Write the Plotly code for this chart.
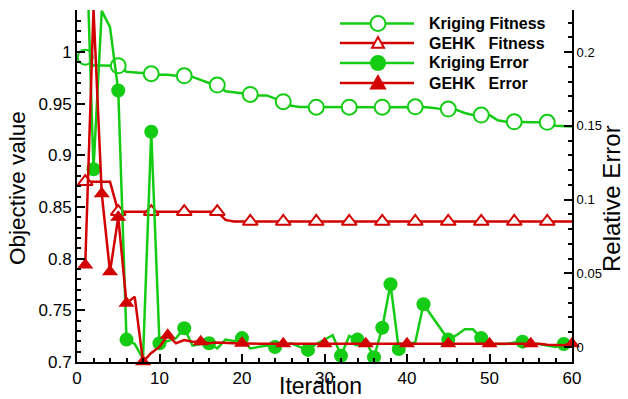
import plotly.graph_objects as go

# ---------------- data ----------------
iterations = list(range(1, 61))

kriging_fitness = [
    0.995, 0.987, 0.987, 0.987, 0.9867, 0.981, 0.9805, 0.980, 0.979, 0.978,
    0.978, 0.977, 0.977, 0.976, 0.973, 0.970, 0.968, 0.962, 0.961, 0.960,
    0.959, 0.958, 0.958, 0.955, 0.952, 0.948, 0.9468, 0.9467, 0.9466, 0.9466,
    0.9466, 0.9466, 0.9466, 0.9466, 0.9466, 0.9466, 0.9466, 0.9466, 0.9466, 0.9468,
    0.947, 0.9468, 0.946, 0.945, 0.9448, 0.944, 0.941, 0.939, 0.939, 0.939,
    0.934, 0.9325, 0.9325, 0.932, 0.932, 0.932, 0.932, 0.9287, 0.9285, 0.928,
]

gehk_fitness = [
    0.8745, 0.8745, 0.8745, 0.8745, 0.8455, 0.8455, 0.8455, 0.8455, 0.8455, 0.8455,
    0.8455, 0.8455, 0.8455, 0.8455, 0.8455, 0.8455, 0.8455, 0.8375, 0.836, 0.836,
] + [0.836] * 40

kriging_error = [
    0.300, 0.1206, 0.228, 0.217, 0.174, 0.005, 0.002, -0.008, 0.146, 0.0025,
    0.004, 0.006, 0.0127, 0.001, 0.002, 0.0025, -0.001, 0.005, 0.004, 0.006,
    -0.001, 0.000, 0.001, 0.000, 0.001, 0.0025, 0.000, -0.002, 0.002, 0.005,
    0.008, -0.006, 0.0075, 0.005, 0.004, -0.007, 0.013, 0.0425, -0.0014, 0.002,
    0.003, 0.029, 0.021, 0.013, 0.005, 0.008, 0.012, 0.012, 0.006, 0.002,
    0.002, 0.002, 0.003, 0.0036, 0.002, 0.002, 0.001, 0.000, 0.002, 0.001,
]

gehk_error = [
    0.0556, 0.229, 0.104, 0.051, 0.088, 0.0296, 0.034, -0.010, -0.004, 0.000,
    0.008, 0.0025, 0.0047, 0.0036, 0.0036, 0.0025, 0.003, 0.0025, 0.0025, 0.0025,
] + [0.0022] * 36 + [0.0015, 0.0012, 0.0012, 0.0022]

fitness_marker_iters = list(range(1, 61, 4))
kriging_error_marker_iters = [2, 5, 6, 9, 10, 13, 16, 20, 24, 28, 32, 34, 36, 37,
                              38, 39, 42, 45, 49, 54, 59]
gehk_error_marker_iters = [1, 2, 3, 4, 5, 6, 8, 11, 15, 20, 25, 30, 35, 40, 45,
                           50, 55, 60]

x_ticks = [0, 10, 20, 30, 40, 50, 60]
left_ticks = [0.7, 0.75, 0.8, 0.85, 0.9, 0.95, 1.0]
right_ticks = [0, 0.05, 0.1, 0.15, 0.2]

series_names = ["Kriging Fitness", "GEHK\u00a0\u00a0\u00a0Fitness",
                "Kriging Error", "GEHK\u00a0\u00a0\u00a0Error"]

# ---------------- style ----------------
GREEN = "#14cc14"
RED = "#d20000"
FONT = "Liberation Sans, Arial, sans-serif"
W, H = 628, 399
L, R, T, B = 77, 56, 10, 37
PW, PH = W - L - R, H - T - B


def px(x):
    return (x - L) / PW


def py(y):
    return (H - B - y) / PH


def subset(values, iters):
    return [values[iterations.index(i)] for i in iters]


fig = go.Figure()

# fitness (left axis)
for vals, color, sym, size, mk in [
    (kriging_fitness, GREEN, "circle", 15, fitness_marker_iters),
    (gehk_fitness, RED, "triangle-up", 13, fitness_marker_iters),
]:
    fig.add_trace(go.Scatter(x=iterations, y=vals, mode="lines",
                             line=dict(color=color, width=2.5),
                             showlegend=False, yaxis="y"))
    fig.add_trace(go.Scatter(x=mk, y=subset(vals, mk), mode="markers",
                             marker=dict(symbol=sym, size=size, color="white",
                                         line=dict(color=color, width=2)),
                             showlegend=False, yaxis="y", cliponaxis=False))

# errors (right axis)
for vals, color, sym, size, mk in [
    (kriging_error, GREEN, "circle", 14, kriging_error_marker_iters),
    (gehk_error, RED, "triangle-up", 14, gehk_error_marker_iters),
]:
    fig.add_trace(go.Scatter(x=iterations, y=vals, mode="lines",
                             line=dict(color=color, width=2.5),
                             showlegend=False, yaxis="y2"))
    fig.add_trace(go.Scatter(x=mk, y=subset(vals, mk), mode="markers",
                             marker=dict(symbol=sym, size=size, color=color,
                                         line=dict(color=color, width=0)),
                             showlegend=False, yaxis="y2", cliponaxis=False))

axis_common = dict(showline=True, linecolor="black", linewidth=2,
                   ticks="inside", tickcolor="black", tickwidth=2,
                   showgrid=False, zeroline=False)

fig.update_layout(
    width=W, height=H,
    margin=dict(l=L, r=R, t=T, b=B, autoexpand=False),
    paper_bgcolor="white", plot_bgcolor="white",
    font=dict(family=FONT, color="black"),
    xaxis=dict(range=[0, 60], tickvals=x_ticks, ticklen=8,
               tickfont=dict(size=17),
               minor=dict(dtick=2, ticklen=4, ticks="inside", tickcolor="black",
                          tickwidth=1.5),
               **axis_common),
    yaxis=dict(range=[0.7, 1.0407], tickvals=left_ticks, ticklen=8,
               tickfont=dict(size=17),
               minor=dict(dtick=0.01, ticklen=4, ticks="inside", tickcolor="black",
                          tickwidth=1.5),
               **axis_common),
    yaxis2=dict(range=[-0.0102, 0.2286], tickvals=right_ticks, ticklen=8,
                tickfont=dict(size=13), overlaying="y", side="right",
                minor=dict(dtick=0.01, ticklen=4, ticks="inside", tickcolor="black",
                           tickwidth=1.5),
                **axis_common),
)

annotations = [
    dict(text="Objective value", x=px(18), y=py(188), textangle=-90,
         font=dict(size=22.5)),
    dict(text="Iteration", x=px(320), y=py(386), font=dict(size=23)),
    dict(text="Relative Error", x=px(612), y=py(199), textangle=-90,
         font=dict(size=24)),
]
for a in annotations:
    a.update(xref="paper", yref="paper", showarrow=False,
             xanchor="center", yanchor="middle")

# custom legend
shapes = []
legend_rows = [23.5, 43, 63, 83]
legend_style = [
    (GREEN, "circle", "white"),
    (RED, "triangle", "white"),
    (GREEN, "circle", GREEN),
    (RED, "triangle", RED),
]
for name, yrow, (color, kind, fill) in zip(series_names, legend_rows, legend_style):
    shapes.append(dict(type="line", xref="paper", yref="paper",
                       x0=px(340), x1=px(414), y0=py(yrow), y1=py(yrow),
                       line=dict(color=color, width=2.5)))
    if kind == "circle":
        r = 7.5 if fill == "white" else 7
        shapes.append(dict(type="circle", xref="paper", yref="paper",
                           xsizemode="pixel", ysizemode="pixel",
                           xanchor=px(378), yanchor=py(yrow),
                           x0=-r, x1=r, y0=-r, y1=r,
                           fillcolor=fill, line=dict(color=color, width=2)))
    else:
        s = 6 if fill == "white" else 7
        shapes.append(dict(type="path", xref="paper", yref="paper",
                           xsizemode="pixel", ysizemode="pixel",
                           xanchor=px(378), yanchor=py(yrow),
                           path=f"M{-s},{-s*0.8:.1f} L{s},{-s*0.8:.1f} L0,{s:.1f} Z",
                           fillcolor=fill, line=dict(color=color, width=2)))
    annotations.append(dict(text=f"<b>{name}</b>", xref="paper", yref="paper",
                            x=px(427), y=py(yrow), xanchor="left", yanchor="middle",
                            showarrow=False, font=dict(size=16)))

fig.update_layout(annotations=annotations, shapes=shapes)
fig.write_html("out.html",
               config={"displayModeBar": False},
               post_script="document.body.style.margin='0';"
                           "document.body.style.padding='0';")
